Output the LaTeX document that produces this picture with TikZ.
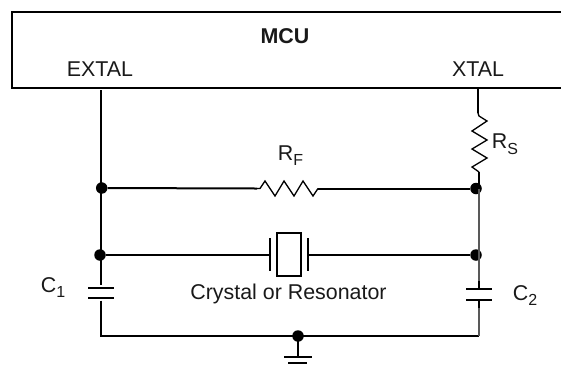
\documentclass[tikz,border=0pt]{standalone}
\usepackage{fontspec}
\setmainfont{Liberation Sans}
\newcommand{\lowsub}[1]{\raisebox{-0.27em}{\fontsize{16pt}{16pt}\selectfont #1}}
\tikzset{
  wire/.style={line width=2pt,black,line cap=butt,line join=miter},
  graywire/.style={line width=1.5pt,black!65},
  zig/.style={line width=1.3pt,black,line join=miter},
  dot/.style={circle,fill=black,inner sep=0pt,minimum size=11.5pt},
  lbl/.style={inner sep=0pt,anchor=base,font=\fontsize{21.4pt}{21.4pt}\selectfont,text=black!90},
}
\begin{document}
\begin{tikzpicture}[x=1pt,y=-1pt]
\useasboundingbox (0,0) rectangle (561,368);
\draw[wire] (561,12) -- (12,12) -- (12,88) -- (561,88);
\node[lbl,font=\fontsize{21.4pt}{21.4pt}\selectfont\bfseries] (mcu) at (285,43) {MCU};
\node[lbl] (extal) at (100,76) {EXTAL};
\node[lbl] (xtal) at (478,76) {XTAL};
% named points
\coordinate (pinL) at (101,90);
\coordinate (pinR) at (478,88);
\node[dot] (jA) at (101.7,188) {};
\node[dot] (jB) at (100,255) {};
\node[dot] (jC) at (476,188.5) {};
\node[dot] (jD) at (476,255) {};
\node[dot] (jG) at (298,336) {};
\coordinate (rsT) at (478,113);
\coordinate (rsB) at (479,172);
\coordinate (rfL) at (257,188.5);
\coordinate (rfR) at (318,188.5);
\coordinate (xL) at (270,255);
\coordinate (xR) at (308,255);
\coordinate (c1T) at (101,285);
\coordinate (c1B) at (101,300.5);
\coordinate (c2T) at (479,289);
\coordinate (c2B) at (479,300);
\coordinate (blc) at (101,336);
\coordinate (brc) at (479,336);
\coordinate (gnd) at (298,357);
% left rail
\draw[wire] (pinL) -- (jA -| pinL);
\draw[wire] (jA -| pinL) -- (jB -| pinL);
\draw[wire] (jB -| pinL) -- (c1T);
\draw[wire] (c1B) -- (blc) -- (jG.center);
\draw[wire] (jG.center) -- (brc);
% capacitor C1
\draw[wire] (88,287.5) -- (114,287.5);
\draw[wire] (88,298) -- (114,298);
% right rail
\draw[wire] (pinR) -- (rsT);
\draw[zig] (rsT) -- (479,116) -- (487,121) -- (472,131) -- (487,140) -- (472,149) -- (487,158) -- (472,167) -- (rsB);
\draw[wire] (rsB) -- (jC -| rsB);
\draw[graywire] (jC -| rsB) -- (479,281);
\draw[wire] (479,281) -- (c2T);
\draw[wire] (c2B) -- (479,308);
\draw[graywire] (479,308) -- (brc);
% capacitor C2
\draw[wire] (466,289) -- (492,289);
\draw[wire] (466,300) -- (492,300);
% feedback resistor
\draw[wire] (jA) -- (rfL);
\draw[zig] (rfL) -- (260,188.5) -- (265,181) -- (275,196) -- (284,181) -- (294,196) -- (303,181) -- (313,196) -- (rfR);
\draw[wire] (rfR) -- (jC);
% crystal
\draw[wire] (jB) -- (xL);
\draw[wire] (270,238) -- (270,271);
\draw[wire] (277,233) rectangle (301,276);
\draw[wire] (308,238) -- (308,271);
\draw[wire] (xR) -- (jD);
% ground
\draw[wire] (jG.center) -- (gnd);
\draw[wire] (284,357) -- (312,357);
\draw[wire] (288,363) -- (307,363);
% labels
\node[lbl] (rf) at (290.5,160) {R\lowsub{F}};
\node[lbl] (rs) at (505,148.5) {R\lowsub{S}};
\node[lbl] (c1) at (53,292) {C\lowsub{1}};
\node[lbl] (c2) at (525,300) {C\lowsub{2}};
\node[lbl] (cr) at (288.5,299) {Crystal or Resonator};
\end{tikzpicture}
\end{document}
